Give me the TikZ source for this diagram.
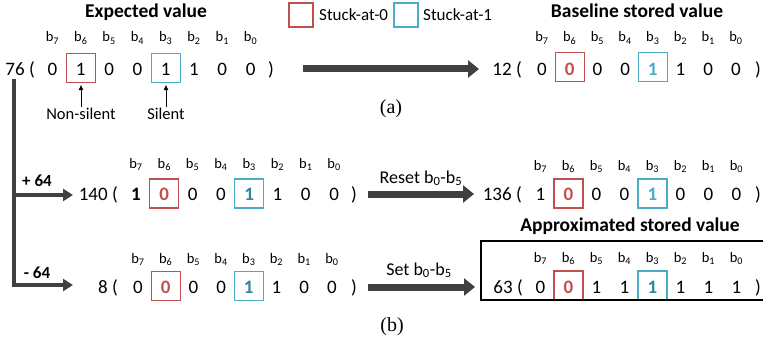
\documentclass[tikz,border=0pt]{standalone}
\usepackage{fontspec}
\setmainfont{Carlito}
\newfontfamily\seriffont{Liberation Serif}
\usetikzlibrary{arrows.meta}
\definecolor{sared}{HTML}{C0504D}
\definecolor{sablue}{HTML}{4BACC6}
\definecolor{sateal}{HTML}{31859C}
\definecolor{arrowgray}{HTML}{404040}
\newcommand\bitrow[9]{%
  \foreach \d [count=\i from 0] in {#6} {
    \pgfmathsetmacro\xx{#2+\i*#3}
    \pgfmathtruncatemacro\bb{7-\i}
    \node[blab] (#1-l\bb) at (\xx,#5) {b\textsubscript{\bb}};
    \node[dig] (#1-d\bb) at (\xx,#4) {\d};
  }
  \node[dig, anchor=base east] (#1-pre) at (#8,#4) {#7};
  \node[dig] (#1-close) at (#9,#4) {)};
}
\begin{document}
\begin{tikzpicture}[x=1pt,y=-1pt,
  dig/.style={inner sep=0pt, anchor=base, font=\fontsize{19}{21}\selectfont},
  blab/.style={inner sep=0pt, anchor=base, font=\fontsize{14.5}{16}\selectfont},
  ttl/.style={inner sep=0pt, anchor=base, font=\fontsize{19.5}{21}\selectfont\bfseries},
  lbl/.style={inner sep=0pt, anchor=base, font=\fontsize{16.5}{18}\selectfont},
  leglbl/.style={inner sep=0pt, anchor=base west, font=\fontsize{17}{19}\selectfont},
  oplbl/.style={inner sep=0pt, anchor=base, font=\fontsize{18}{20}\selectfont},
  sublbl/.style={inner sep=0pt, anchor=base, font=\fontsize{17}{19}\selectfont\bfseries},
  captext/.style={inner sep=0pt, anchor=base, font=\fontsize{20}{22}\selectfont\seriffont},
  sa0/.style={draw=sared, line width=1.3pt, minimum width=29pt, minimum height=29pt, inner sep=0pt},
  sa1/.style={draw=sablue, line width=1.3pt, minimum width=29pt, minimum height=29pt, inner sep=0pt},
  legbox0/.style={draw=sared, line width=1.3pt, minimum size=24pt, inner sep=0pt},
  legbox1/.style={draw=sablue, line width=1.3pt, minimum size=24pt, inner sep=0pt},
  bigarrow/.style={draw=arrowgray, line width=7pt, -{Triangle[length=11pt,width=17pt]}},
  branch/.style={draw=arrowgray, line width=4pt, -{Triangle[length=10pt,width=12pt]}},
  thinarrow/.style={draw=black, line width=0.8pt, -{Triangle[length=5pt,width=4.5pt]}},
]
\useasboundingbox (0,0) rectangle (763,345);

% titles
\node[ttl] (t-exp) at (146,17.3) {Expected value};
\node[ttl] (t-base) at (637,17.3) {Baseline stored value};
\node[ttl] (t-appr) at (630,231.7) {Approximated stored value};

% legend
\node[legbox0] (leg0) at (301,15) {};
\node[leglbl] (leg0t) at (319,20.5) {Stuck-at-0};
\node[legbox1] (leg1) at (406,15) {};
\node[leglbl] (leg1t) at (423,20.5) {Stuck-at-1};

% rows
\bitrow{a}{52.5}{28.3}{75}{42}{0,1,0,0,1,1,0,0}{76 (}{35}{271}
\bitrow{bl}{542}{27.7}{75}{42}{0,{\bfseries\color{sared}0},0,0,{\bfseries\color{sablue}1},1,0,0}{12 (}{522}{758}
\bitrow{p}{136}{28.3}{200.5}{168}{{\bfseries 1},{\bfseries\color{sared}0},0,0,{\bfseries\color{sateal}1},1,0,0}{140 (}{118}{354}
\bitrow{m}{138}{27.7}{293}{263}{0,{\bfseries\color{sared}0},0,0,{\bfseries\color{sateal}1},1,0,0}{8 (}{118}{354}
\bitrow{r}{540.5}{28}{200.5}{170}{1,{\bfseries\color{sared}0},0,0,{\bfseries\color{sablue}1},0,0,0}{136 (}{522}{758}
\bitrow{s}{540.5}{28}{293}{262.5}{0,{\bfseries\color{sared}0},1,1,{\bfseries\color{sateal}1},1,1,1}{63 (}{523}{758}

% stuck-at boxes
\path (a-d6.base) ++(0,-7) node[sa0] (a-box6) {};
\path (a-d3.base) ++(0,-7) node[sa1] (a-box3) {};
\path (bl-d6.base) ++(0,-8) node[sa0] (bl-box6) {};
\path (bl-d3.base) ++(0,-8) node[sa1] (bl-box3) {};
\path (p-d6.base) ++(0,-7) node[sa0] (p-box6) {};
\path (p-d3.base) ++(0,-7) node[sa1] (p-box3) {};
\path (r-d6.base) ++(0,-7) node[sa0] (r-box6) {};
\path (r-d3.base) ++(0,-7) node[sa1] (r-box3) {};
\path (m-d6.base) ++(0,-7) node[sa0] (m-box6) {};
\path (m-d3.base) ++(0,-7) node[sa1] (m-box3) {};
\path (s-d6.base) ++(0,-7.5) node[sa0] (s-box6) {};
\path (s-d3.base) ++(0,-7.5) node[sa1] (s-box3) {};

% frame around approximated value (right side runs off the picture)
\coordinate (fr1) at (763,241);
\coordinate (fr2) at (481,241);
\coordinate (fr3) at (481,300);
\coordinate (fr4) at (763,300);
\draw[line width=1.2pt] (fr1) -- (fr2) -- (fr3) -- (fr4);

% silent / non-silent
\node[lbl] (ns) at (81,119) {Non-silent};
\node[lbl] (sil) at (166,119) {Silent};
\draw[thinarrow, shorten >=2pt] (ns.north) -- (ns.north |- a-box6.south);
\draw[thinarrow, shorten >=2pt] (sil.north) -- (sil.north |- a-box3.south);

% big arrows
\coordinate (aA) at (303,69);
\coordinate (aB) at (479,69);
\draw[bigarrow] (aA) -- (aB);
\coordinate (rA) at (368,194);
\coordinate (rB) at (474,194);
\draw[bigarrow] (rA) -- (rB);
\coordinate (sA) at (368,287);
\coordinate (sB) at (475,287);
\draw[bigarrow] (sA) -- (sB);
\node[oplbl] (resetlbl) at (421,183) {Reset b\textsubscript{0}-b\textsubscript{5}};
\node[oplbl] (setlbl) at (419,275) {Set b\textsubscript{0}-b\textsubscript{5}};

% branching connector
\coordinate (vtop) at (14,79);
\coordinate (vmid) at (14,195);
\coordinate (tip1) at (73,195);
\coordinate (tip2) at (73,285);
\draw[branch] (vtop) |- (tip2);
\draw[branch] (vmid) -- (tip1);
\node[sublbl] (plus) at (37,186.5) {+ 64};
\node[sublbl] (minus) at (37,278) {- 64};

% captions
\node[captext] (capa) at (391,113) {(a)};
\node[captext] (capb) at (392,331.5) {(b)};
\end{tikzpicture}
\end{document}
